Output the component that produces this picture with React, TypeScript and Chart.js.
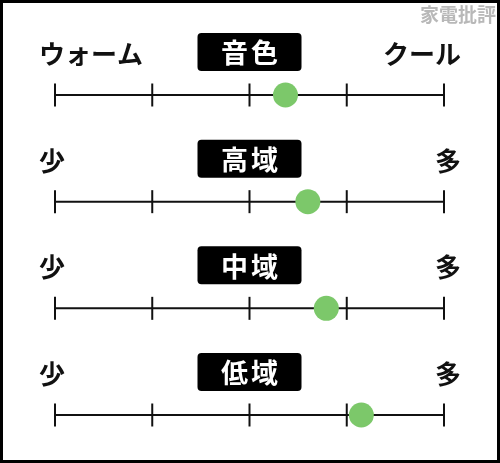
import React, { useEffect, useRef } from "react";
import { Chart, registerables } from "chart.js";

Chart.register(...registerables);

const categories = ["音色", "高域", "中域", "低域"];
const leftLabels = ["ウォーム", "少", "少", "少"];
const rightLabels = ["クール", "多", "多", "多"];
const scores = [3.37, 3.6, 3.79, 4.15];
const tickValues = [1, 2, 3, 4, 5];
const watermark = "家電批評";

const FONT = '"Noto Sans CJK JP", "Noto Sans", sans-serif';

const scalePlugin = {
  id: "scaleRows",
  beforeDraw(chart: any) {
    const ctx = chart.ctx;
    const W = chart.width;
    const H = chart.height;
    ctx.save();
    ctx.fillStyle = "#ffffff";
    ctx.fillRect(0, 0, W, H);
    ctx.restore();
  },
  beforeDatasetsDraw(chart: any) {
    const ctx = chart.ctx;
    const xs = chart.scales.x;
    const ys = chart.scales.y;
    const x0 = xs.getPixelForValue(tickValues[0]);
    const x1 = xs.getPixelForValue(tickValues[tickValues.length - 1]);
    ctx.save();
    categories.forEach((cat, i) => {
      const y = ys.getPixelForValue(i);
      // main line
      ctx.strokeStyle = "#111";
      ctx.lineWidth = 2;
      ctx.beginPath();
      ctx.moveTo(x0, y);
      ctx.lineTo(x1, y);
      ctx.stroke();
      // ticks
      tickValues.forEach((t) => {
        const tx = xs.getPixelForValue(t);
        ctx.beginPath();
        ctx.moveTo(tx, y - 11.5);
        ctx.lineTo(tx, y + 11.5);
        ctx.stroke();
      });
      // side labels
      ctx.fillStyle = "#111";
      ctx.font = `bold 26px ${FONT}`;
      ctx.textBaseline = "middle";
      ctx.textAlign = "left";
      ctx.fillText(leftLabels[i], x0 - 16, y - 41);
      ctx.textAlign = "right";
      ctx.fillText(rightLabels[i], x1 + 17, y - 41);
      // badge
      const cx = (x0 + x1) / 2;
      const bw = 104;
      const bh = 38;
      const bx = cx - bw / 2;
      const by = y - 43 - bh / 2;
      ctx.fillStyle = "#000";
      ctx.beginPath();
      ctx.roundRect(bx, by, bw, bh, 4);
      ctx.fill();
      ctx.fillStyle = "#fff";
      ctx.font = `bold 27px ${FONT}`;
      ctx.textAlign = "center";
      ctx.textBaseline = "middle";
      const chars = cat.split("");
      const gap = 3;
      const cw = chars.map((c) => ctx.measureText(c).width);
      const total = cw.reduce((a, b) => a + b, 0) + gap * (chars.length - 1);
      let sx = cx - total / 2;
      chars.forEach((c, k) => {
        ctx.fillText(c, sx + cw[k] / 2, y - 42);
        sx += cw[k] + gap;
      });
    });
    ctx.restore();
  },
  afterDraw(chart: any) {
    const ctx = chart.ctx;
    const W = chart.width;
    const H = chart.height;
    ctx.save();
    ctx.strokeStyle = "#000";
    ctx.lineWidth = 3;
    ctx.strokeRect(1.5, 1.5, W - 3, H - 3);
    ctx.fillStyle = "#b8b8b8";
    ctx.font = `bold 19px ${FONT}`;
    ctx.textAlign = "right";
    ctx.textBaseline = "middle";
    ctx.fillText(watermark, W - 4, 15);
    ctx.restore();
  },
};

export default function App() {
  const ref = useRef<HTMLCanvasElement | null>(null);
  useEffect(() => {
    if (!ref.current) return;
    const chart = new Chart(ref.current, {
      type: "scatter",
      data: {
        datasets: [
          {
            data: scores.map((v, i) => ({ x: v, y: i })),
            backgroundColor: "rgb(124, 200, 106)",
            borderWidth: 0,
            pointRadius: 12.5,
            pointHoverRadius: 12.5,
            clip: false as any,
          },
        ],
      },
      options: {
        responsive: false,
        animation: false,
        devicePixelRatio: 1,
        layout: { padding: { left: 55, right: 56, top: 95, bottom: 48 } },
        plugins: { legend: { display: false }, tooltip: { enabled: false } },
        events: [],
        scales: {
          x: { type: "linear", min: 1, max: 5, display: false },
          y: { type: "linear", min: 0, max: 3, reverse: true, display: false },
        },
      },
      plugins: [scalePlugin],
    });
    return () => chart.destroy();
  }, []);
  return (
    <div style={{ position: "absolute", left: 0, top: 0, width: 500, height: 463 }}>
      <canvas ref={ref} width={500} height={463} style={{ width: 500, height: 463, display: "block" }} />
    </div>
  );
}
